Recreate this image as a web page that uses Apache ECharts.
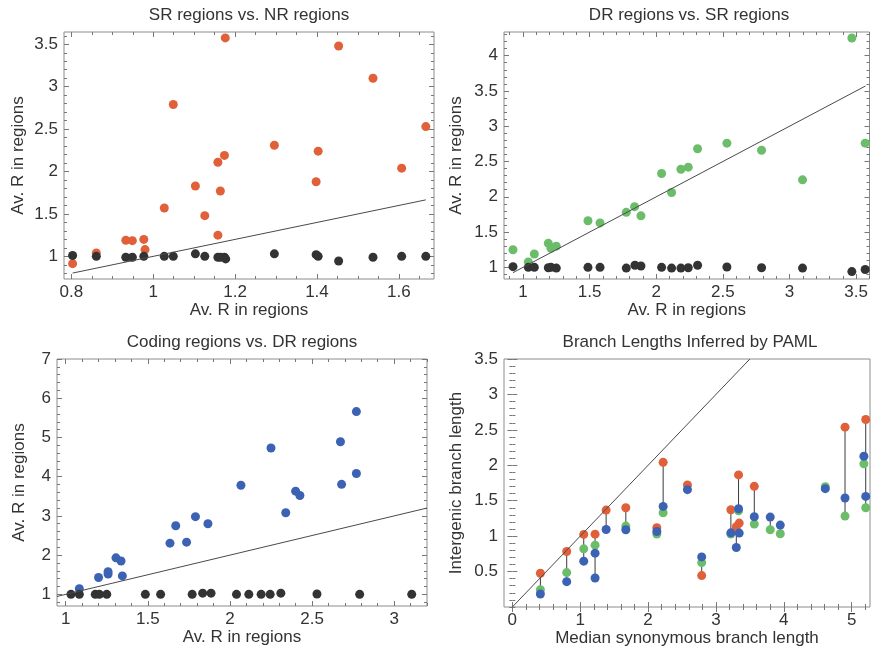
<!DOCTYPE html>
<html>
<head>
<meta charset="utf-8">
<script src="https://cdn.jsdelivr.net/npm/echarts@6/dist/echarts.min.js"></script>
<style>html,body{margin:0;padding:0;background:#fff}#c{width:871px;height:649px}</style>
</head>
<body>
<div id="c"></div>
<script>
// ---------- DATA ----------
// Panel 1: SR regions vs. NR regions
const p1Orange = [[0.803,0.914],[0.861,1.04],[0.933,1.19],[0.949,1.185],[0.977,1.20],[0.980,1.08],[1.027,1.57],[1.049,2.79],[1.103,1.83],[1.126,1.48],[1.158,1.25],[1.158,2.11],[1.164,1.77],[1.174,2.19],[1.176,3.575],[1.296,2.31],[1.398,1.88],[1.403,2.24],[1.453,3.48],[1.537,3.10],[1.607,2.04],[1.666,2.53]];
const p1Black = [[0.803,1.01],[0.861,1.0],[0.933,0.99],[0.949,0.99],[0.977,1.0],[1.027,1.0],[1.049,1.0],[1.103,1.03],[1.126,1.0],[1.158,0.99],[1.164,0.99],[1.174,0.99],[1.177,0.97],[1.296,1.03],[1.398,1.02],[1.403,1.0],[1.453,0.945],[1.537,0.99],[1.607,1.0],[1.666,1.0]];
const p1Fit = [[0.803,0.803],[1.666,1.666]];
const p1XTicks = [0.8,1,1.2,1.4,1.6];
const p1YTicks = [1,1.5,2,2.5,3,3.5];

// Panel 2: DR regions vs. SR regions
const p2Green = [[0.925,1.25],[1.04,1.076],[1.085,1.19],[1.19,1.34],[1.21,1.27],[1.25,1.30],[1.4875,1.66],[1.578,1.63],[1.775,1.78],[1.8375,1.86],[1.885,1.73],[2.04,2.33],[2.115,2.06],[2.185,2.39],[2.24,2.42],[2.31,2.68],[2.53,2.76],[2.79,2.66],[3.0975,2.24],[3.4675,4.25],[3.5675,2.76]];
const p2Black = [[0.925,1.01],[1.04,1.0],[1.085,1.0],[1.19,0.995],[1.21,1.0],[1.25,0.99],[1.4875,1.0],[1.578,1.0],[1.775,0.99],[1.84,1.03],[1.885,1.02],[2.04,1.0],[2.115,0.99],[2.185,0.99],[2.24,0.995],[2.31,1.03],[2.53,1.005],[2.79,0.995],[3.0975,0.99],[3.4675,0.94],[3.5675,0.97]];
const p2Fit = [[0.925,0.925],[3.57,3.57]];
const p2XTicks = [1,1.5,2,2.5,3,3.5];
const p2YTicks = [1,1.5,2,2.5,3,3.5,4];

// Panel 3: Coding regions vs. DR regions
const p3Blue = [[1.083,1.144],[1.20,1.43],[1.258,1.576],[1.258,1.517],[1.306,1.93],[1.337,1.85],[1.345,1.47],[1.635,2.305],[1.67,2.75],[1.736,2.33],[1.79,2.98],[1.866,2.80],[2.067,3.78],[2.25,4.73],[2.34,3.08],[2.40,3.63],[2.426,3.52],[2.673,4.89],[2.68,3.805],[2.77,5.66],[2.77,4.08]];
const p3Black = [[1.032,1.0],[1.083,1.0],[1.18,1.0],[1.205,1.0],[1.25,1.0],[1.485,1.0],[1.578,1.0],[1.77,1.0],[1.834,1.03],[1.885,1.03],[2.04,1.0],[2.115,1.0],[2.19,1.0],[2.245,1.0],[2.31,1.03],[2.53,1.01],[2.79,1.0],[3.107,1.0]];
const p3Fit = [[0.947,0.947],[3.2,3.2]];
const p3XTicks = [1,1.5,2,2.5,3];
const p3YTicks = [1,2,3,4,5,6,7];

// Panel 4: Branch Lengths Inferred by PAML
const p4Orange = [[0.413,0.477],[0.801,0.783],[1.052,1.024],[1.219,1.028],[1.382,1.368],[1.672,1.401],[2.129,1.118],[2.222,2.042],[2.58,1.722],[2.79,0.443],[3.22,1.373],[3.30,1.132],[3.333,1.864],[3.343,1.184],[3.565,1.703],[4.902,2.538],[5.207,2.646]];
const p4Green = [[0.413,0.245],[0.801,0.486],[1.052,0.821],[1.219,0.873],[1.672,1.142],[2.129,1.029],[2.222,1.33],[2.79,0.627],[3.22,1.03],[3.333,1.358],[3.565,1.17],[3.80,1.09],[3.948,1.033],[4.611,1.698],[4.902,1.283],[5.18,2.02],[5.207,1.40]];
const p4Blue = [[0.413,0.184],[0.801,0.358],[1.052,0.647],[1.219,0.76],[1.219,0.41],[1.382,1.094],[1.672,1.09],[2.129,1.066],[2.222,1.42],[2.58,1.656],[2.79,0.707],[3.22,1.047],[3.30,0.84],[3.333,1.387],[3.343,1.043],[3.565,1.274],[3.80,1.269],[3.948,1.156],[4.611,1.67],[4.902,1.538],[5.18,2.127],[5.207,1.561]];
const p4Links = [[0.413,0.184,0.477],[0.801,0.358,0.783],[1.052,0.647,1.024],[1.219,0.41,1.028],[1.382,1.094,1.368],[1.672,1.09,1.401],[2.129,1.029,1.118],[2.222,1.33,2.042],[2.58,1.656,1.722],[2.79,0.443,0.707],[3.22,1.03,1.373],[3.30,0.84,1.132],[3.333,1.358,1.864],[3.343,1.043,1.184],[3.565,1.17,1.703],[3.80,1.09,1.269],[3.948,1.033,1.156],[4.611,1.67,1.698],[4.902,1.283,2.538],[5.207,1.40,2.646]];
const p4Fit = [[0,0],[3.5,3.5]];
const p4XTicks = [0,1,2,3,4,5];
const p4YTicks = [0.5,1,1.5,2,2.5,3,3.5];

const titles = ['SR regions vs. NR regions','DR regions vs. SR regions','Coding regions vs. DR regions','Branch Lengths Inferred by PAML'];
const xNames = ['Av. R in regions','Av. R in regions','Av. R in regions','Median synonymous branch length'];
const yNames = ['Av. R in regions','Av. R in regions','Av. R in regions','Intergenic branch length'];

// ---------- STYLE / LAYOUT ----------
const FONT = 'Liberation Sans, Arial, Helvetica, sans-serif';
const TXT = '#333';
const FS = 17;
const ORANGE = '#e0603a', GREEN = '#6bbd6a', BLUE = '#3c62b3', BLACK = '#333333';
const FRAME = '#8c8c8c';

const grids = [
  {left:64, top:32, width:370, height:247},
  {left:504, top:32, width:366, height:247},
  {left:57, top:359, width:370, height:247},
  {left:504, top:359, width:366, height:248}
];
const ranges = [
  {x:[0.782,1.686], y:[0.733,3.645], xt:p1XTicks, yt:p1YTicks, xm:0.05, ym:0.1, yGap:37},
  {x:[0.8575,3.6], y:[0.835,4.335], xt:p2XTicks, yt:p2YTicks, xm:0.1, ym:0.1, yGap:39},
  {x:[0.947,3.2], y:[0.703,7.0], xt:p3XTicks, yt:p3YTicks, xm:0.1, ym:0.2, yGap:29},
  {x:[-0.123,5.27], y:[0,3.5], xt:p4XTicks, yt:p4YTicks, xm:0.2, ym:0.1, yGap:39}
];

function minorVals(min, max, step, majors){
  const out = [];
  const start = Math.ceil(min/step - 1e-9);
  for (let k = start; k*step <= max + 1e-9; k++){
    const v = +(k*step).toFixed(6);
    if (!majors.some(m => Math.abs(m - v) < 1e-6)) out.push(v);
  }
  return out;
}

const xAxes = [], yAxes = [];
grids.forEach((g, i) => {
  const r = ranges[i];
  const xMinor = minorVals(r.x[0], r.x[1], r.xm, r.xt);
  const yMinor = minorVals(r.y[0], r.y[1], r.ym, r.yt);
  const base = (pos, min, max, vals, len, labels, isX, name, gap) => {
    const ax = {
      type:'value', gridIndex:i, position:pos, min:min, max:max,
      axisLine:{show:false}, splitLine:{show:false},
      axisTick:{show:true, inside:true, length:len, customValues:vals, lineStyle:{color:'#777', width:1}},
      axisLabel:{show:labels, customValues:vals, color:TXT, fontSize:FS, fontFamily:FONT, margin:isX?5:6,
        formatter: v => String(+v.toFixed(3))},
    };
    if (name){
      ax.name = name; ax.nameLocation = 'middle'; ax.nameGap = gap;
      ax.nameTextStyle = {color:TXT, fontSize:FS, fontFamily:FONT};
    }
    return ax;
  };
  xAxes.push(base('bottom', r.x[0], r.x[1], r.xt, 5, true, true, xNames[i], 23));
  xAxes.push(base('bottom', r.x[0], r.x[1], xMinor, 3, false, true));
  xAxes.push(base('top', r.x[0], r.x[1], r.xt, 5, false, true));
  xAxes.push(base('top', r.x[0], r.x[1], xMinor, 3, false, true));
  yAxes.push(base('left', r.y[0], r.y[1], r.yt, 5, true, false, yNames[i], r.yGap));
  yAxes.push(base('left', r.y[0], r.y[1], yMinor, 3, false, false));
  yAxes.push(base('right', r.y[0], r.y[1], r.yt, 5, false, false));
  yAxes.push(base('right', r.y[0], r.y[1], yMinor, 3, false, false));
});

function scatter(i, data, color){
  return {type:'scatter', xAxisIndex:4*i, yAxisIndex:4*i, data:data, symbolSize:9,
    itemStyle:{color:color, opacity:1}, silent:true, animation:false};
}
function fit(i, data){
  return {type:'line', xAxisIndex:4*i, yAxisIndex:4*i, data:data, symbol:'none',
    lineStyle:{color:'#4a4a4a', width:1}, silent:true, animation:false};
}

const series = [
  fit(0, p1Fit), scatter(0, p1Orange, ORANGE), scatter(0, p1Black, BLACK),
  fit(1, p2Fit), scatter(1, p2Green, GREEN), scatter(1, p2Black, BLACK),
  fit(2, p3Fit), scatter(2, p3Blue, BLUE), scatter(2, p3Black, BLACK),
  fit(3, p4Fit),
  {type:'custom', xAxisIndex:12, yAxisIndex:12, data:p4Links, silent:true, animation:false,
    encode:{x:0, y:[1,2]},
    renderItem:(params, api) => {
      const a = api.coord([api.value(0), api.value(1)]);
      const b = api.coord([api.value(0), api.value(2)]);
      return {type:'line', shape:{x1:a[0], y1:a[1], x2:b[0], y2:b[1]}, style:{stroke:'#3a3a3a', lineWidth:1}};
    }},
  scatter(3, p4Orange, ORANGE), scatter(3, p4Green, GREEN), scatter(3, p4Blue, BLUE)
];

const titleCenters = [[249,7],[689,7],[242,334],[690,334]];
const option = {
  backgroundColor:'#fff',
  animation:false,
  title: titles.map((t, i) => ({text:t, left:titleCenters[i][0], top:titleCenters[i][1], textAlign:'center', padding:0,
    textStyle:{color:TXT, fontSize:FS, fontWeight:'normal', fontFamily:FONT}})),
  grid: grids.map(g => Object.assign({show:true, borderColor:FRAME, borderWidth:1, backgroundColor:'transparent'}, g)),
  xAxis: xAxes,
  yAxis: yAxes,
  series: series
};

const chart = echarts.init(document.getElementById('c'), null, {renderer:'canvas'});
chart.setOption(option);
</script>
</body>
</html>
